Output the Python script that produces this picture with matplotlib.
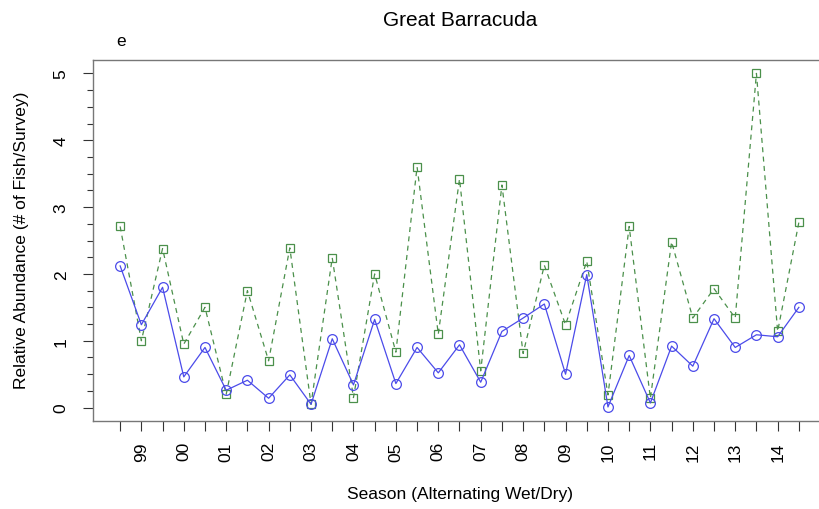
import matplotlib.pyplot as plt
import numpy as np
from matplotlib.ticker import MultipleLocator

plt.rcParams['font.family'] = ['Liberation Sans', 'DejaVu Sans']

# survey number within the series, one per wet/dry season
season = np.arange(1, 34)
season_labels = ['', '99', '', '00', '', '01', '', '02', '', '03', '', '04', '', '05', '', '06',
                 '', '07', '', '08', '', '09', '', '10', '', '11', '', '12', '', '13', '', '14', '']

# relative abundance, fish per survey
blue_series = [2.12, 1.24, 1.80, 0.46, 0.90, 0.26, 0.41, 0.14, 0.49, 0.05, 1.03,
               0.34, 1.32, 0.36, 0.90, 0.52, 0.94, 0.38, 1.14, 1.34, 1.55, 0.50,
               1.99, 0.01, 0.78, 0.07, 0.92, 0.62, 1.33, 0.90, 1.09, 1.06, 1.50]
green_series = [2.71, 1.00, 2.38, 0.95, 1.50, 0.20, 1.75, 0.70, 2.39, 0.05, 2.24,
                0.15, 2.00, 0.83, 3.60, 1.10, 3.42, 0.55, 3.33, 0.81, 2.13, 1.24,
                2.19, 0.19, 2.71, 0.14, 2.48, 1.34, 1.78, 1.34, 5.00, 1.14, 2.77]

fig = plt.figure(figsize=(8.2, 5.1), dpi=100)
x0, x1 = 93 / 820, 826 / 820
ax = fig.add_axes([x0, 1 - 422 / 510, x1 - x0, (422 - 61) / 510])

ax.plot(season, green_series, color='#4b904b', lw=0.9, ls=(0, (4, 3.5)),
        marker='s', ms=5.5, mfc='none', mec='#4b904b', mew=0.9)
ax.plot(season, blue_series, color='#4b4bea', lw=0.9,
        marker='o', ms=7, mfc='none', mec='#4b4bea', mew=0.9)

ax.set_xlim(1 - 1.28, 33 + 1.28)
ax.set_ylim(-0.2, 5.2)
ax.set_xticks(season)
ax.set_xticklabels(season_labels, rotation=90)
ax.yaxis.set_major_locator(MultipleLocator(1))
ax.yaxis.set_minor_locator(MultipleLocator(0.25))
ax.set_yticks(range(6))
ax.set_yticklabels([str(v) for v in range(6)], rotation=90, va='center')

ax.tick_params(axis='both', which='major', length=7.5, width=0.8, color='#333333',
               labelsize=12.5)
ax.tick_params(axis='y', which='major', pad=10)
ax.tick_params(axis='x', which='major', pad=7)
ax.tick_params(axis='y', which='minor', length=4, width=0.8, color='#333333')
for s in ax.spines.values():
    s.set_color('#777777')
    s.set_linewidth(1.0)

fig.text(460 / 820, 1 - 20 / 510, 'Great Barracuda', ha='center', va='center', fontsize=15)
fig.text(121 / 820, 1 - 42 / 510, 'e', ha='center', va='center', fontsize=12.5)
fig.text(22 / 820, 1 - 240 / 510, 'Relative Abundance (# of Fish/Survey)', rotation=90,
         ha='center', va='center', fontsize=12.5)
fig.text(460 / 820, 1 - 495 / 510, 'Season (Alternating Wet/Dry)', ha='center',
         va='center', fontsize=12.5)

fig.savefig('out.png', dpi=100)
